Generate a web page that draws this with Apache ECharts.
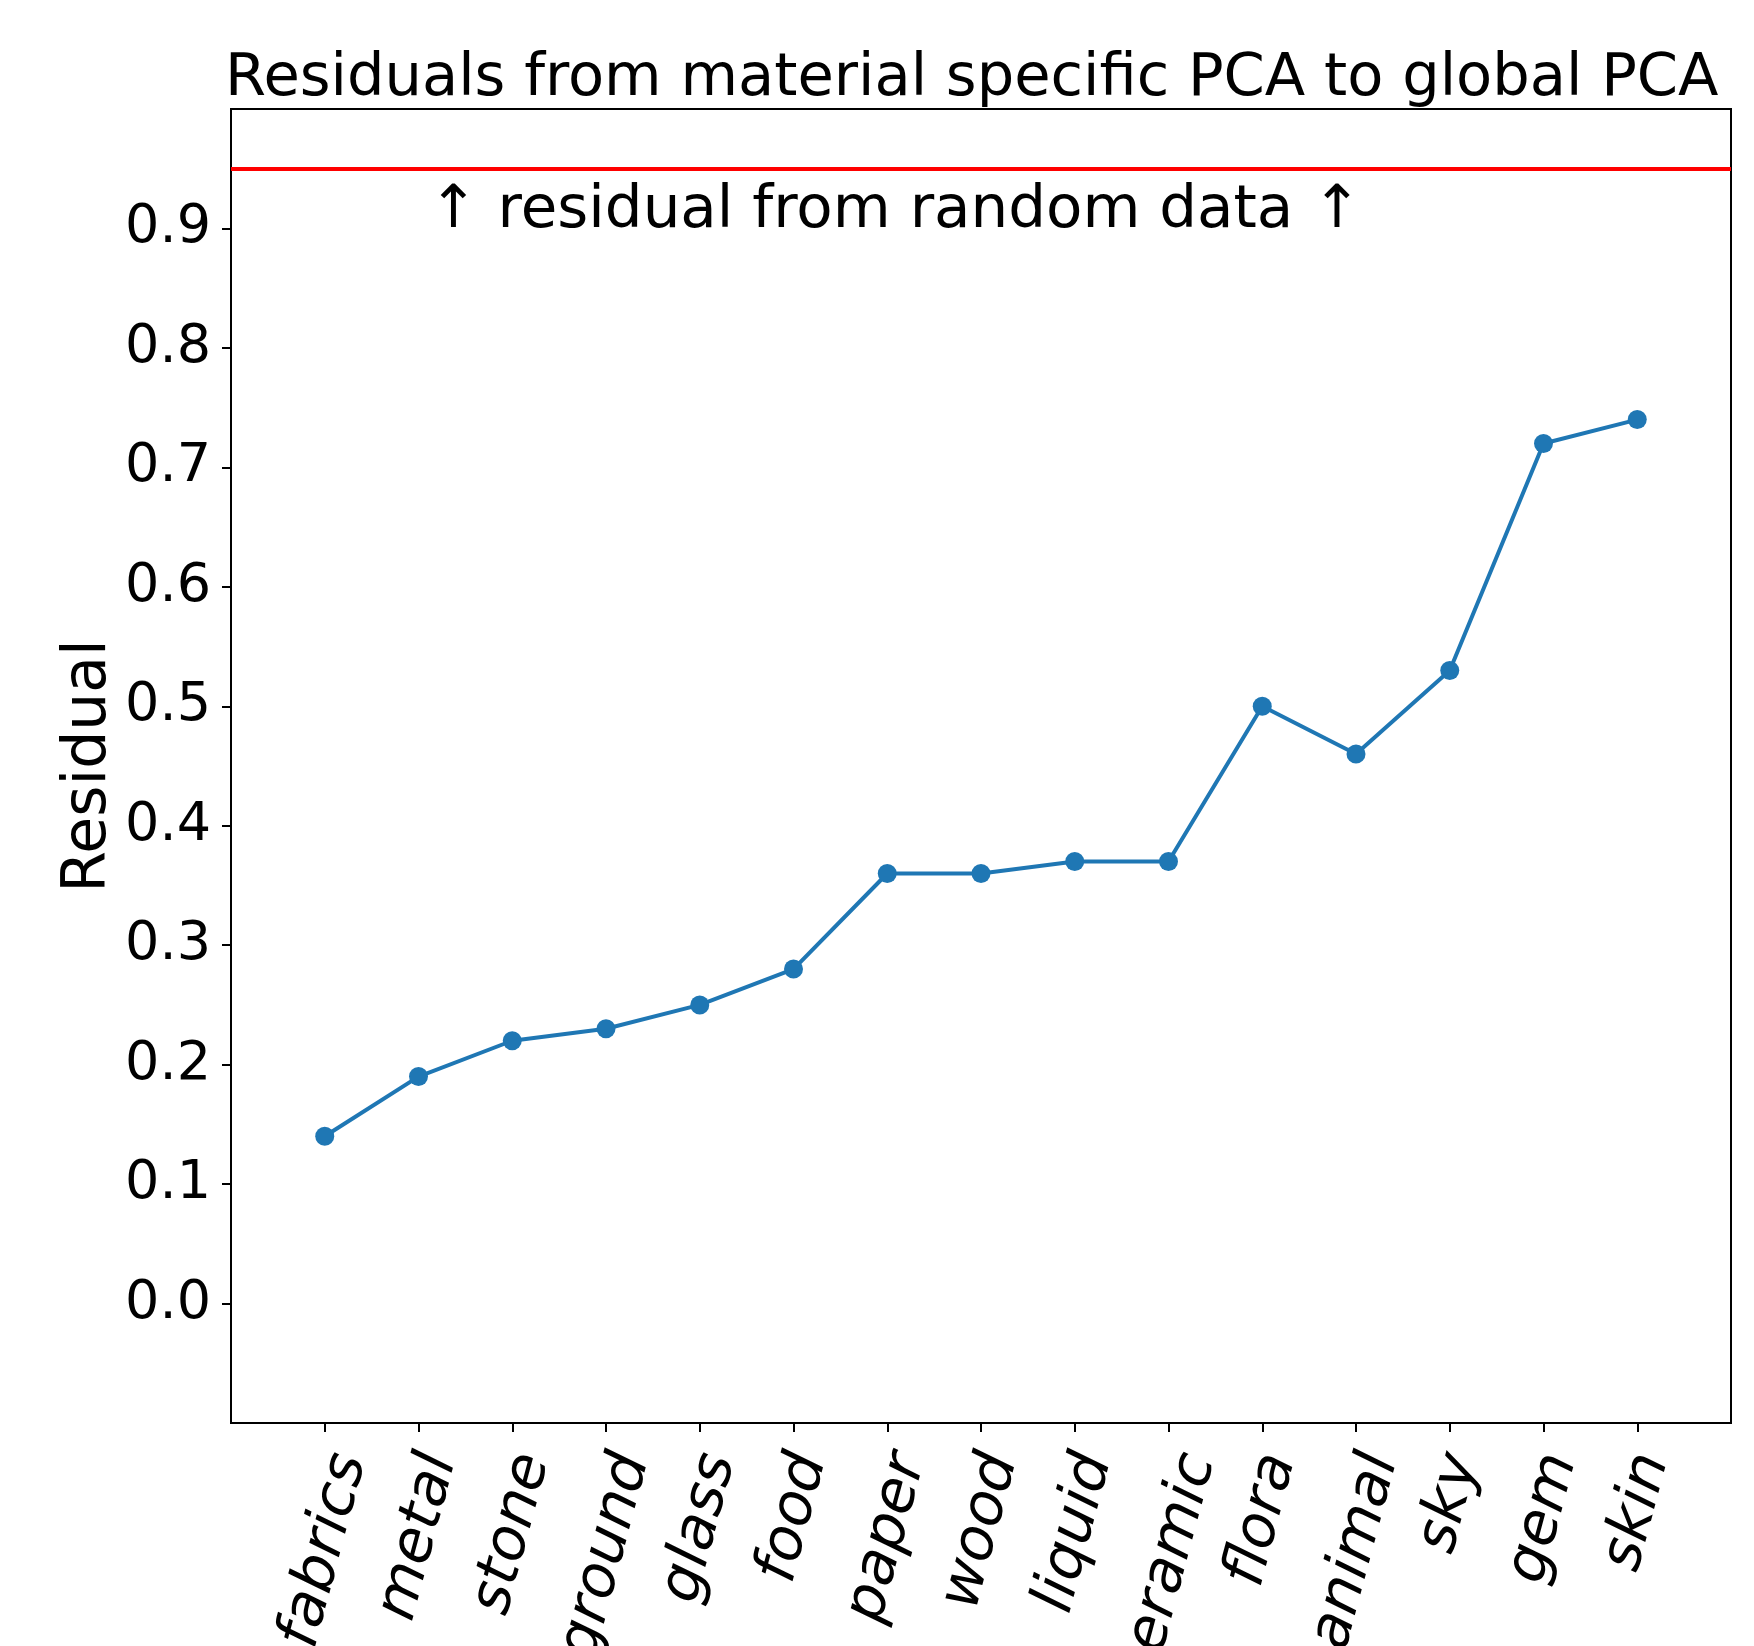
<!DOCTYPE html>
<html>
<head>
<meta charset="utf-8">
<script src="https://cdn.jsdelivr.net/npm/echarts@6/dist/echarts.min.js"></script>
<style>
  html, body { margin: 0; padding: 0; background: #fff; }
  #chart { width: 1754px; height: 1646px; }
</style>
</head>
<body>
<div id="chart"></div>
<script>
// ---- data ----
const categories = ['fabrics', 'metal', 'stone', 'ground', 'glass', 'food', 'paper', 'wood',
  'liquid', 'ceramic', 'flora', 'animal', 'sky', 'gem', 'skin'];
const residuals = [0.14, 0.19, 0.22, 0.23, 0.25, 0.28, 0.36, 0.36, 0.37, 0.37, 0.50, 0.46, 0.53, 0.72, 0.74];
const yTickValues = [0.0, 0.1, 0.2, 0.3, 0.4, 0.5, 0.6, 0.7, 0.8, 0.9];
const randomResidual = 0.95;
const titleText = 'Residuals from material specific PCA to global PCA';
const yAxisName = 'Residual';
const annotationText = '\u2191 residual from random data \u2191';
const annotationAt = [1.11, 0.9];

const FONT = '"DejaVu Sans", "Liberation Sans", sans-serif';
const xIdx = categories.map((c, i) => i);

const chart = echarts.init(document.getElementById('chart'), null, { renderer: 'canvas' });

const option = {
  animation: false,
  backgroundColor: '#ffffff',
  title: {
    text: titleText,
    left: 225,
    top: 50,
    padding: 0,
    textStyle: { fontFamily: FONT, fontSize: 59.1, fontWeight: 'normal', color: '#000' }
  },
  grid: {
    left: 231, right: 23, top: 109, bottom: 223,
    show: true, borderColor: '#000', borderWidth: 2, backgroundColor: 'transparent',
    containLabel: false
  },
  xAxis: {
    type: 'value',
    min: -1, max: 15, interval: 1,
    splitLine: { show: false },
    axisLine: { show: true, onZero: false, lineStyle: { color: '#000', width: 2 } },
    axisTick: { show: true, inside: false, length: 9, lineStyle: { color: '#000', width: 2 }, customValues: xIdx },
    axisLabel: { show: false }
  },
  yAxis: {
    type: 'value',
    min: -0.1, max: 1.0, interval: 0.1,
    splitLine: { show: false },
    axisLine: { show: true, onZero: false, lineStyle: { color: '#000', width: 2 } },
    axisTick: { show: true, inside: false, length: 9, lineStyle: { color: '#000', width: 2 }, customValues: yTickValues },
    axisLabel: {
      show: true, customValues: yTickValues, margin: 20,
      fontFamily: FONT, fontSize: 54, color: '#000',
      formatter: v => Number(v).toFixed(1)
    },
    name: yAxisName,
    nameLocation: 'middle',
    nameGap: 112,
    nameMoveOverlap: false,
    nameTextStyle: { fontFamily: FONT, fontSize: 60, color: '#000' }
  },
  series: [{
    type: 'line',
    data: residuals.map((v, i) => [i, v]),
    lineStyle: { color: '#1f77b4', width: 4 },
    itemStyle: { color: '#1f77b4' },
    symbol: 'circle',
    symbolSize: 19,
    showSymbol: true,
    markLine: {
      silent: true,
      symbol: ['none', 'none'],
      label: { show: false },
      lineStyle: { color: '#ff0000', width: 4, type: 'solid' },
      data: [{ yAxis: randomResidual }]
    }
  }]
};

chart.setOption(option);

// rotated, italic category labels (matplotlib-style: bbox centred on tick, tops aligned)
const labelFont = 'italic 59px ' + FONT;
const ctx = document.createElement('canvas').getContext('2d');
ctx.font = labelFont;
const axisY = chart.convertToPixel({ yAxisIndex: 0 }, -0.1);
const rot = 75 * Math.PI / 180;
const graphics = categories.map((c, i) => {
  const tx = chart.convertToPixel({ xAxisIndex: 0 }, i);
  const L = ctx.measureText(c).width;
  return {
    type: 'text',
    x: tx + Math.cos(rot) * L / 2,
    y: axisY + 32,
    rotation: rot,
    silent: true,
    style: { text: c, font: labelFont, fill: '#000', align: 'right', verticalAlign: 'middle' }
  };
});
const ap = chart.convertToPixel({ xAxisIndex: 0, yAxisIndex: 0 }, annotationAt);
graphics.push({
  type: 'text',
  x: ap[0],
  y: ap[1] - 17,
  silent: true,
  style: { text: annotationText, font: '59.5px ' + FONT, fill: '#000', align: 'left', verticalAlign: 'middle' }
});
chart.setOption({ graphic: graphics });
</script>
</body>
</html>
